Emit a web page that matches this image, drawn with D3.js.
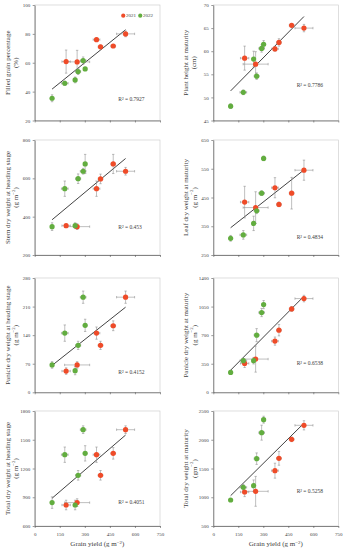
<!DOCTYPE html>
<html>
<head>
<meta charset="utf-8">
<script src="https://cdn.jsdelivr.net/npm/d3@7"></script>
<style>
    body { margin: 0; background: #fff; }
    text { font-family: "Liberation Serif", "Times New Roman", serif; fill: #404040; }
</style>
</head>
<body>
<svg id="svg" width="345" height="550"></svg>
<script>
(function() {
    'use strict';

    // grain yield (x) per year, with its error
    var years = ['2021', '2022'];
    var yield2021 = [188, 254, 370, 394, 470, 544];
    var yield2021Err = [25, 75, 20, 14, 14, 54];
    var yield2022 = [104, 180, 242, 260, 290, 302];
    var yield2022Err = [5, 20, 5, 15, 17, 10];

    // y traits, same order as the yields above
    var filled2021 = [60.8, 60.6, 76.0, 71.0, 71.6, 80.0];
    var filled2021Err = [8, 8, 1.2, 1.2, 1, 2];
    var filled2022 = [35.4, 45.8, 48.1, 53.9, 61.5, 55.7];
    var filled2022Err = [2.4, 1.5, 2, 2, 2.5, 1];

    var height2021 = [58.5, 57.2, 60.5, 61.9, 65.6, 65.0];
    var height2021Err = [2.6, 2.7, 0.5, 0.8, 0.3, 0.8];
    var height2022 = [48.1, 51.1, 58.3, 54.6, 60.6, 61.5];
    var height2022Err = [0.5, 0.5, 1.7, 0.7, 0.8, 0.8];

    var stem2021 = [353, 348, 546, 597, 675, 637];
    var stem2021Err = [5, 15, 40, 25, 50, 20];
    var stem2022 = [348, 546, 353, 598, 637, 675];
    var stem2022Err = [20, 40, 15, 25, 15, 50];

    var leaf2021 = [434, 415, 484, 426, 465, 545];
    var leaf2021Err = [55, 55, 35, 8, 55, 35];
    var leaf2022 = [308, 320, 360, 404, 465, 586];
    var leaf2022Err = [10, 15, 25, 10, 8, 8];

    var panHead2021 = [52, 67, 145, 115, 163, 233];
    var panHead2021Err = [8, 8, 15, 10, 12, 15];
    var panHead2022 = [67, 145, 53, 115, 233, 164];
    var panHead2022Err = [8, 20, 10, 10, 15, 15];

    var panMat2021 = [354, 407, 627, 761, 1021, 1148];
    var panMat2021Err = [50, 160, 50, 70, 30, 40];
    var panMat2022 = [244, 387, 387, 700, 977, 1074];
    var panMat2022Err = [10, 25, 40, 80, 50, 50];

    var totHead2021 = [819, 844, 1344, 1129, 1358, 1605];
    var totHead2021Err = [50, 40, 80, 50, 60, 40];
    var totHead2022 = [844, 1344, 819, 1129, 1605, 1358];
    var totHead2022Err = [60, 80, 50, 50, 40, 80];

    var totMat2021 = [1091, 1103, 1462, 1677, 2007, 2251];
    var totMat2021Err = [80, 260, 130, 120, 40, 80];
    var totMat2022 = [952, 1172, 1201, 1671, 2123, 2349];
    var totMat2022Err = [20, 50, 100, 100, 130, 60];

    // axis labels and ticks
    var xTicks = [0, 150, 300, 450, 600, 750];
    var titles = [
        ['Filled grain percentage', '(%)'],
        ['Plant height at maturity', '(cm)'],
        ['Stem dry weight at heading stage', '(g m-2)'],
        ['Leaf dry weight at maturity', '(g m-2)'],
        ['Panicle dry weight at heading stage', '(g m-2)'],
        ['Panicle dry weight at maturity', '(g m-2)'],
        ['Total dry weight at heading stage', '(g m-2)'],
        ['Total dry weight at maturity', '(gm-2)']
    ];
    var yTicks = [
        [20, 40, 60, 80, 100],
        [45, 50, 55, 60, 65, 70],
        [200, 400, 600, 800],
        [250, 350, 450, 550, 650],
        [0, 70, 140, 210, 280],
        [0, 350, 700, 1050, 1400],
        [600, 900, 1200, 1500, 1800],
        [500, 1000, 1500, 2000, 2500]
    ];
    var rSquared = ['0.7927', '0.7786', '0.453', '0.4834', '0.4152', '0.6538', '0.4051', '0.5258'];

    var series = [
        [filled2021, filled2021Err, filled2022, filled2022Err],
        [height2021, height2021Err, height2022, height2022Err],
        [stem2021, stem2021Err, stem2022, stem2022Err],
        [leaf2021, leaf2021Err, leaf2022, leaf2022Err],
        [panHead2021, panHead2021Err, panHead2022, panHead2022Err],
        [panMat2021, panMat2021Err, panMat2022, panMat2022Err],
        [totHead2021, totHead2021Err, totHead2022, totHead2022Err],
        [totMat2021, totMat2021Err, totMat2022, totMat2022Err]
    ];

    // layout
    var colX = [[34.7, 160], [213.3, 338.3]];
    var rowY = [[5, 120.5], [140, 255], [278, 392.3], [411, 526]];
    var r2Pos = [0.82, 0.70, 0.76, 0.85, 0.83, 0.75, 0.80, 0.70];
    var colors = { '2021': '#ef4b28', '2022': '#62ad3f' };
    var errColor = '#8a8a8a';

    var svg = d3.select('#svg');

    // "(g m-2)" -> text with a superscript -2
    function unitText(sel, str, size) {
        var m = str.match(/^(.*?)(-\d)(.*)$/);
        if (!m) { sel.text(str); return; }
        sel.append('tspan').text(m[1]);
        sel.append('tspan').text(m[2].replace('-', '\u2212'))
            .attr('font-size', size * 0.7).attr('dy', -size * 0.35);
        sel.append('tspan').text(m[3]).attr('dy', size * 0.35);
    }

    series.forEach(function (s, i) {
        var col = i % 2, row = Math.floor(i / 2);
        var ticks = yTicks[i];
        var x = d3.scaleLinear().domain([0, 750]).range(colX[col]);
        var y = d3.scaleLinear().domain([ticks[0], ticks[ticks.length - 1]]).range([rowY[row][1], rowY[row][0]]);
        var g = svg.append('g');

        var pts = [];
        yield2021.forEach(function (v, k) {
            pts.push({ year: '2021', x: v, xe: yield2021Err[k], y: s[0][k], ye: s[1][k] });
        });
        yield2022.forEach(function (v, k) {
            pts.push({ year: '2022', x: v, xe: yield2022Err[k], y: s[2][k], ye: s[3][k] });
        });

        // frame
        g.append('rect')
            .attr('x', x.range()[0]).attr('y', y.range()[1])
            .attr('width', x.range()[1] - x.range()[0])
            .attr('height', y.range()[0] - y.range()[1])
            .attr('fill', 'none').attr('stroke', '#c8c8c8').attr('stroke-width', 0.6);

        // axes
        var xAxis = g.append('g')
            .attr('transform', 'translate(0,' + y.range()[0] + ')')
            .call(d3.axisBottom(x).tickValues(xTicks).tickSize(2).tickSizeOuter(0)
                .tickFormat(row === 3 ? d3.format('d') : ''));
        var yAxis = g.append('g')
            .attr('transform', 'translate(' + x.range()[0] + ',0)')
            .call(d3.axisLeft(y).tickValues(ticks).tickSize(2).tickSizeOuter(0)
                .tickFormat(d3.format('d')));
        [xAxis, yAxis].forEach(function (a) {
            a.select('.domain').attr('stroke', '#555').attr('stroke-width', 0.7);
            a.selectAll('.tick line').attr('stroke', '#555').attr('stroke-width', 0.6);
            a.selectAll('.tick text').attr('font-family', '"Liberation Serif", serif')
                .attr('font-size', 5).attr('fill', '#404040');
        });
        xAxis.selectAll('.tick text').attr('dy', '0.9em');
        yAxis.selectAll('.tick text').attr('x', -4.5);

        // y title, two lines
        var cy = (y.range()[0] + y.range()[1]) / 2;
        var tx = x.range()[0] - 26.5;
        g.append('text')
            .attr('transform', 'translate(' + tx + ',' + cy + ') rotate(-90)')
            .attr('text-anchor', 'middle').attr('dominant-baseline', 'middle')
            .attr('font-size', 7).text(titles[i][0]);
        unitText(g.append('text')
            .attr('transform', 'translate(' + (tx + 8) + ',' + cy + ') rotate(-90)')
            .attr('text-anchor', 'middle').attr('dominant-baseline', 'middle')
            .attr('font-size', 7), titles[i][1], 7);

        // linear fit over both years
        var mx = d3.mean(pts, function (d) { return d.x; });
        var my = d3.mean(pts, function (d) { return d.y; });
        var sxy = d3.sum(pts, function (d) { return (d.x - mx) * (d.y - my); });
        var sxx = d3.sum(pts, function (d) { return (d.x - mx) * (d.x - mx); });
        var slope = sxy / sxx, icpt = my - slope * mx;
        var ext = d3.extent(pts, function (d) { return d.x; });
        g.append('line')
            .attr('x1', x(ext[0])).attr('y1', y(icpt + slope * ext[0]))
            .attr('x2', x(ext[1])).attr('y2', y(icpt + slope * ext[1]))
            .attr('stroke', '#111').attr('stroke-width', 0.8);

        // error bars
        var eb = g.selectAll('.err').data(pts).enter().append('g')
            .attr('stroke', errColor).attr('stroke-width', 0.55);
        eb.append('line')
            .attr('x1', function (d) { return x(d.x - d.xe); })
            .attr('x2', function (d) { return x(d.x + d.xe); })
            .attr('y1', function (d) { return y(d.y); })
            .attr('y2', function (d) { return y(d.y); });
        eb.append('line')
            .attr('x1', function (d) { return x(d.x); })
            .attr('x2', function (d) { return x(d.x); })
            .attr('y1', function (d) { return y(d.y - d.ye); })
            .attr('y2', function (d) { return y(d.y + d.ye); });
        // caps
        [-1, 1].forEach(function (sgn) {
            eb.append('line')
                .attr('x1', function (d) { return x(d.x + sgn * d.xe); })
                .attr('x2', function (d) { return x(d.x + sgn * d.xe); })
                .attr('y1', function (d) { return y(d.y) - 1.2; })
                .attr('y2', function (d) { return y(d.y) + 1.2; });
            eb.append('line')
                .attr('x1', function (d) { return x(d.x) - 1.2; })
                .attr('x2', function (d) { return x(d.x) + 1.2; })
                .attr('y1', function (d) { return y(d.y + sgn * d.ye); })
                .attr('y2', function (d) { return y(d.y + sgn * d.ye); });
        });

        g.selectAll('.pt').data(pts).enter().append('circle')
            .attr('cx', function (d) { return x(d.x); })
            .attr('cy', function (d) { return y(d.y); })
            .attr('r', 2.6)
            .attr('fill', function (d) { return colors[d.year]; });

        // R² label
        var ry = y.range()[1] + (y.range()[0] - y.range()[1]) * r2Pos[i];
        g.append('text')
            .attr('x', x(500)).attr('y', ry)
            .attr('dominant-baseline', 'middle')
            .attr('font-size', 5.5)
            .text('R\u00b2 = ' + rSquared[i]);

        // legend only in the first panel
        if (i === 0) {
            var leg = g.append('g').attr('transform', 'translate(' + x(530) + ',' + (y.range()[1] + 10.7) + ')');
            years.forEach(function (yr, k) {
                var lg = leg.append('g').attr('transform', 'translate(' + (k * 17) + ',0)');
                lg.append('circle').attr('r', 2.1).attr('fill', colors[yr]);
                lg.append('text').attr('x', 2.8).attr('dominant-baseline', 'middle')
                    .attr('font-size', 5).text(yr);
            });
        }
    });

    // shared x title under each column
    [0, 1].forEach(function (col) {
        var t = svg.append('text')
            .attr('x', (colX[col][0] + colX[col][1]) / 2).attr('y', 546)
            .attr('text-anchor', 'middle').attr('font-size', 7);
        unitText(t, 'Grain yield (g m-2)', 7);
    });
})();
</script>
</body>
</html>
